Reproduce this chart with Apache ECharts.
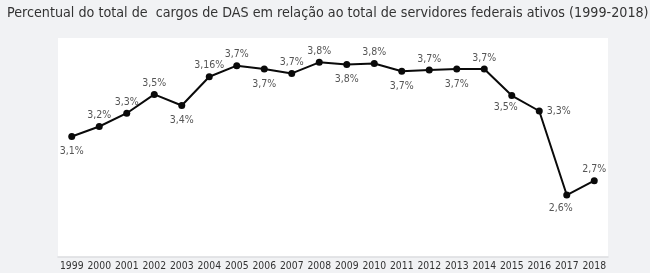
<!DOCTYPE html>
<html>
<head>
<meta charset="utf-8">
<script src="https://cdn.jsdelivr.net/npm/echarts@6/dist/echarts.min.js"></script>
<style>
    html, body { margin: 0; padding: 0; background: #f1f2f4; }
    #chart { width: 650px; height: 273px; }
</style>
</head>
<body>
<div id="chart"></div>
<script>
const years = ['1999', '2000', '2001', '2002', '2003', '2004', '2005', '2006', '2007', '2008',
    '2009', '2010', '2011', '2012', '2013', '2014', '2015', '2016', '2017', '2018'];
// valores estimados a partir da posição dos pontos
const values = [3.13, 3.22, 3.34, 3.51, 3.41, 3.67, 3.77, 3.74, 3.70, 3.80,
    3.78, 3.79, 3.72, 3.73, 3.74, 3.74, 3.50, 3.36, 2.60, 2.73];
// rótulos como aparecem no gráfico original
const labels = ['3,1%', '3,2%', '3,3%', '3,5%', '3,4%', '3,16%', '3,7%', '3,7%', '3,7%', '3,8%',
    '3,8%', '3,8%', '3,7%', '3,7%', '3,7%', '3,7%', '3,5%', '3,3%', '2,6%', '2,7%'];

const labelSide = ['bottom', 'top', 'top', 'top', 'bottom', 'top', 'top', 'bottom', 'top', 'top',
    'bottom', 'top', 'bottom', 'top', 'bottom', 'top', 'bottom', 'right', 'bottom', 'top'];

function labelOffset(i) {
    if (i === 16) return [-6, -3];
    if (i === 18) return [-6, -2];
    if (labelSide[i] === 'top') return [0, 4];
    if (labelSide[i] === 'right') return [-2, 0];
    return [0, 0];
}

let myChart = echarts.init(document.getElementById('chart'));
let font = '"DejaVu Sans Condensed", "Liberation Sans", sans-serif';

let option = {
    backgroundColor: '#f1f2f4',
    animation: false,
    title: {
        text: 'Percentual do total de  cargos de DAS em relação ao total de servidores federais ativos (1999-2018)',
        left: 2,
        top: 1,
        textStyle: {
            fontFamily: font,
            fontSize: 14.2,
            fontWeight: 'normal',
            color: '#333'
        }
    },
    grid: {
        left: 58,
        right: 42,
        top: 38,
        bottom: 16,
        show: true,
        backgroundColor: '#fff',
        borderWidth: 0
    },
    xAxis: {
        type: 'category',
        data: years,
        boundaryGap: true,
        axisLine: { lineStyle: { color: '#dcdde0', width: 1.5 } },
        axisTick: { show: false },
        axisLabel: {
            interval: 0,
            margin: 4,
            fontFamily: font,
            fontSize: 10.3,
            color: '#333'
        }
    },
    yAxis: {
        type: 'value',
        min: 2.04,
        max: 4.02,
        show: false,
        splitLine: { show: false }
    },
    series: [
        {
            type: 'line',
            data: values.map((v, i) => ({
                value: v,
                label: {
                    position: labelSide[i],
                    offset: labelOffset(i)
                }
            })),
            symbol: 'circle',
            symbolSize: 7,
            lineStyle: { color: '#0a0a0a', width: 2 },
            itemStyle: { color: '#0a0a0a' },
            label: {
                show: true,
                distance: 6,
                fontFamily: font,
                fontSize: 10.5,
                color: '#555',
                formatter: (p) => labels[p.dataIndex]
            }
        }
    ]
};

myChart.setOption(option);
</script>
</body>
</html>
